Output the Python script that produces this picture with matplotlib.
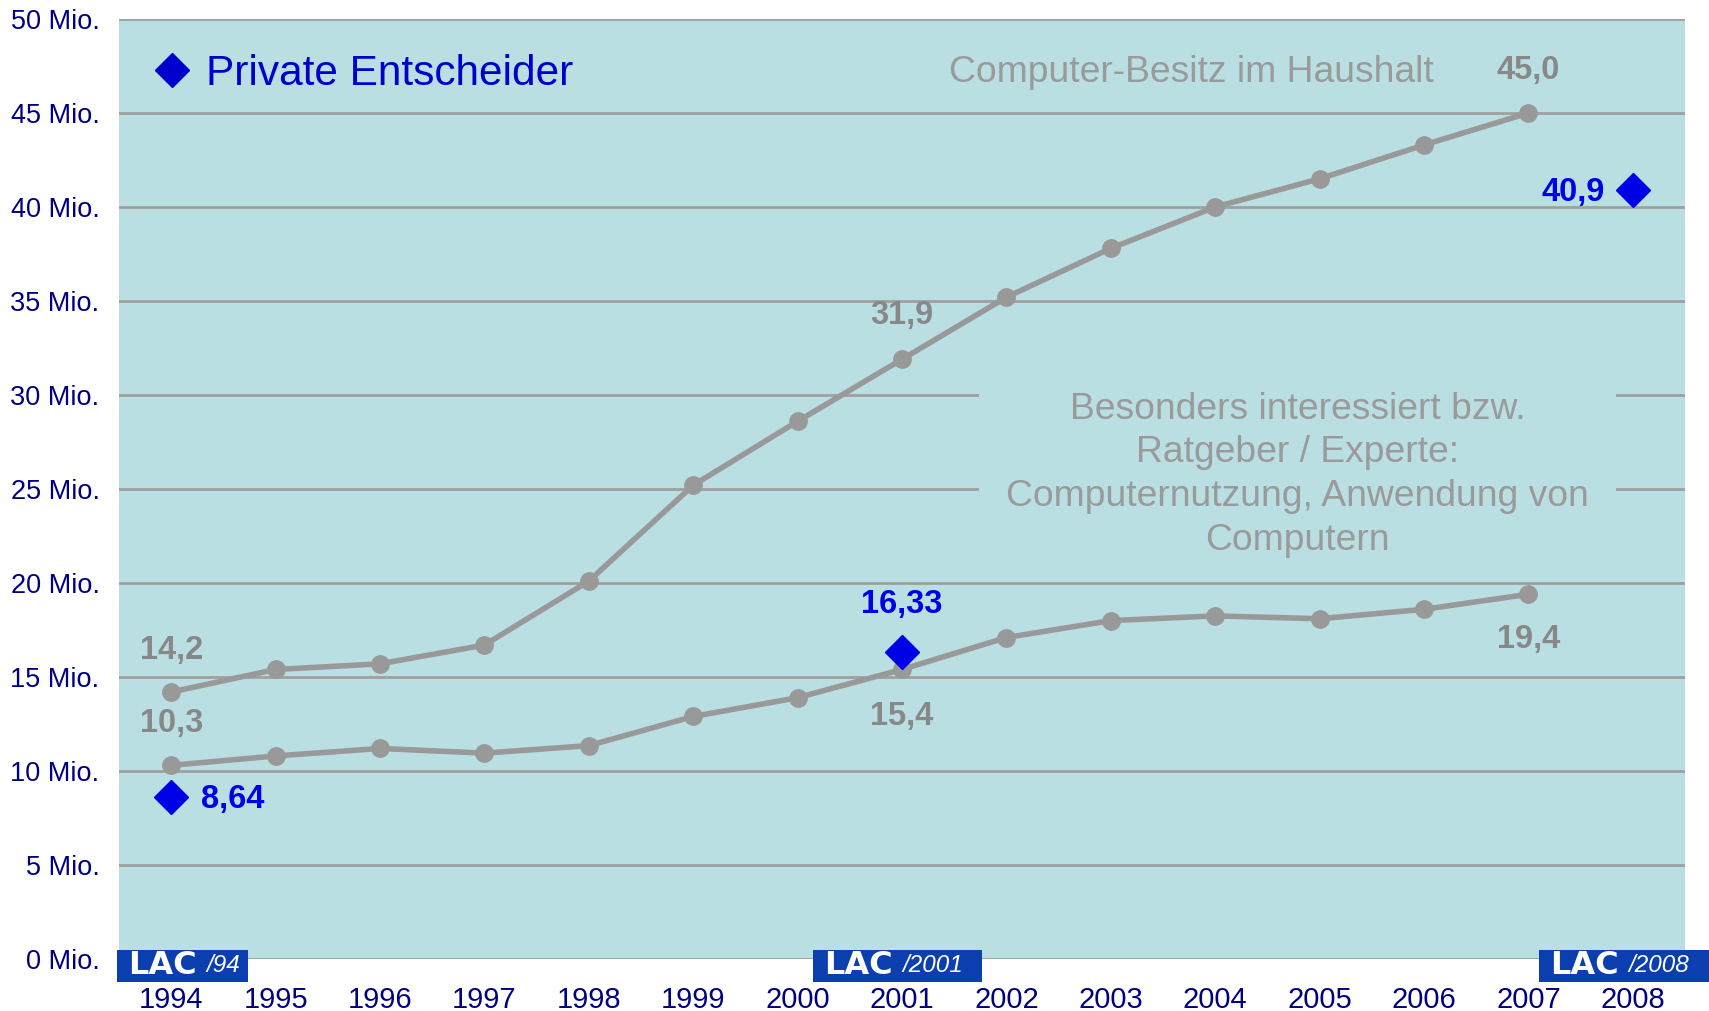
import matplotlib
matplotlib.use("Agg")
import matplotlib.pyplot as plt
from matplotlib.patches import Rectangle
from matplotlib.lines import Line2D

plt.rcParams['font.family'] = ['Liberation Sans', 'DejaVu Sans']

years = ["1994", "1995", "1996", "1997", "1998", "1999", "2000", "2001",
         "2002", "2003", "2004", "2005", "2006", "2007", "2008"]
besitz = [14.2, 15.4, 15.7, 16.7, 20.1, 25.2, 28.6, 31.9, 35.2, 37.8, 40.0,
          41.5, 43.3, 45.0]
interesse = [10.3, 10.8, 11.2, 10.95, 11.35, 12.9, 13.9, 15.4, 17.1, 18.0,
             18.25, 18.1, 18.6, 19.4]
private_years = ["1994", "2001", "2008"]
private_vals = [8.64, 16.33, 40.9]
y_ticks = [0, 5, 10, 15, 20, 25, 30, 35, 40, 45, 50]
y_ticklabels = [f"{v} Mio." for v in y_ticks]
badges = [("1994", "/94"), ("2001", "/2001"), ("2008", "/2008")]

BG = "#B9DFE3"
GRAY = "#999999"
LABEL_GRAY = "#888888"
BLUE = "#0000E6"
NAVY = "#000080"

W, H = 1709, 1011
fig = plt.figure(figsize=(W / 100, H / 100), dpi=100)
ax = fig.add_axes([119 / W, 1 - 959 / H, (1685 - 119) / W, (959 - 19) / H])
ax.set_facecolor(BG)

xi = {y: i for i, y in enumerate(years)}
xb = [xi[y] for y in years[:len(besitz)]]
xp = [xi[y] for y in private_years]

ax.set_xlim(-0.5, len(years) - 0.5)
ax.set_ylim(0, 50)
ax.set_yticks(y_ticks)
ax.set_yticklabels(y_ticklabels)
ax.set_xticks(range(len(years)))
ax.set_xticklabels(years)
ax.tick_params(axis='both', length=0, colors=NAVY)
ax.tick_params(axis='y', labelsize=19.5, pad=14)
ax.tick_params(axis='x', labelsize=21, pad=19.5)
for s in ax.spines.values():
    s.set_visible(False)
ax.yaxis.grid(True, color="#A0A0A0", lw=2, zorder=0)
ax.set_axisbelow(True)

# box covering gridlines behind annotation text
ax.add_patch(Rectangle((7.74, 22), 13.84 - 7.74, 11, facecolor=BG,
                       edgecolor='none', zorder=1))

ax.plot(xb, besitz, color=GRAY, lw=4, marker='o', ms=12.5, zorder=3)
ax.plot(xb, interesse, color=GRAY, lw=4, marker='o', ms=12.5, zorder=3)
ax.plot(xp, private_vals, linestyle='none', marker='D', ms=17.5, color=BLUE,
        zorder=4)


def fmt(v, nd=1):
    return f"{v:.{nd}f}".replace(".", ",")


def lab(x, y, txt, dx, dy, color, ha='center'):
    ax.annotate(txt, (x, y), xytext=(dx, dy), textcoords='offset pixels',
                ha=ha, va='center', fontsize=23.5, fontweight='bold',
                color=color, zorder=5)


lab(xb[0], besitz[0], fmt(besitz[0]), 0, 42, LABEL_GRAY)
lab(xb[0], interesse[0], fmt(interesse[0]), 0, 42, LABEL_GRAY)
lab(xb[7], besitz[7], fmt(besitz[7]), 0, 44, LABEL_GRAY)
lab(xb[7], interesse[7], fmt(interesse[7]), 0, -47, LABEL_GRAY)
lab(xb[13], besitz[13], fmt(besitz[13]), 0, 43, LABEL_GRAY)
lab(xb[13], interesse[13], fmt(interesse[13]), 0, -45, LABEL_GRAY)
lab(xp[0], private_vals[0], fmt(private_vals[0], 2), 30, -3, BLUE, ha='left')
lab(xp[1], private_vals[1], fmt(private_vals[1], 2), 0, 47, BLUE)
lab(xp[2], private_vals[2], fmt(private_vals[2]), -28, -2, BLUE, ha='right')

ax.text(9.77, 47.15, "Computer-Besitz im Haushalt", ha='center', va='center',
        fontsize=26.8, color="#9A9A9A", zorder=5)
ax.text(10.79, 25.75,
        "Besonders interessiert bzw.\nRatgeber / Experte:\n"
        "Computernutzung, Anwendung von\nComputern",
        ha='center', va='center', fontsize=26.8, color="#9A9A9A",
        linespacing=1.33, zorder=5)

leg_handle = Line2D([], [], linestyle='none', marker='D', ms=17.5,
                    color="#0000CC")
leg = ax.legend([leg_handle], ["Private Entscheider"], loc='center left',
                bbox_to_anchor=(157 / W, 1 - 74 / H),
                bbox_transform=fig.transFigure, frameon=False, fontsize=30.5,
                handlelength=0.7, handletextpad=0.45, borderpad=0,
                borderaxespad=0)
for t in leg.get_texts():
    t.set_color("#0000CC")

# LAC badges
badge_px = [(117, 248), (813, 982), (1539, 1709)]
for (yr, suffix), (x0, x1) in zip(badges, badge_px):
    fig.patches.append(Rectangle((x0 / W, 1 - 982 / H), (x1 - x0) / W,
                                 32 / H, transform=fig.transFigure,
                                 facecolor="#0B3FAF", edgecolor='none',
                                 zorder=10))
    fig.text((x0 + 11) / W, 1 - 966 / H, "LAC", ha='left', va='center',
             fontsize=23, fontweight='heavy', color='white',
             family='DejaVu Sans', zorder=11)
    fig.text((x0 + 89) / W, 1 - 966 / H, suffix, ha='left', va='center',
             fontsize=17.5, style='italic', color='white', zorder=11)

fig.savefig("out.png", dpi=100, facecolor='white')
